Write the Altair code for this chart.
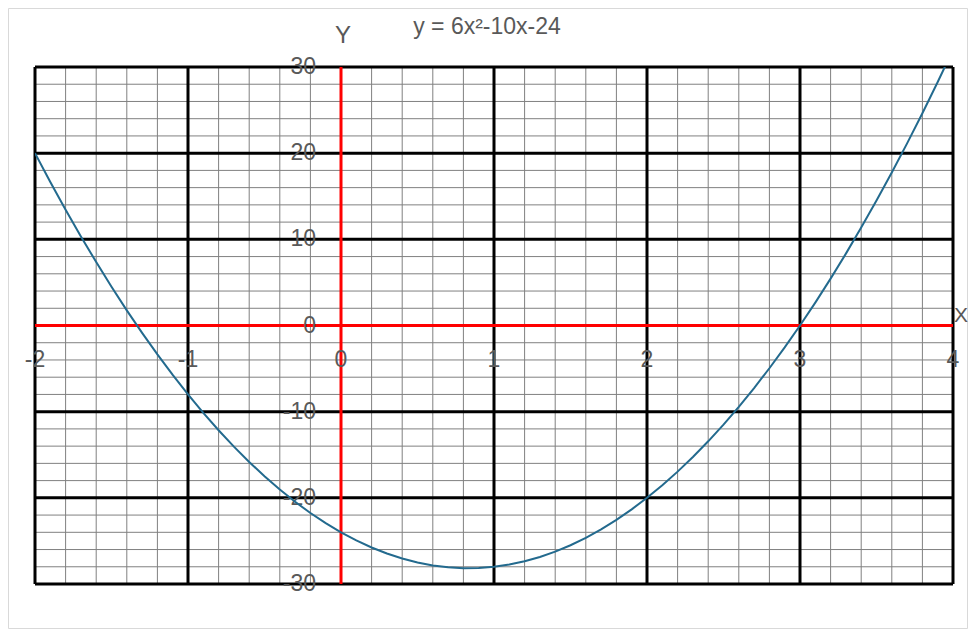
import altair as alt
import pandas as pd

# ---- data ----
curve_x = [-2.0, -1.9, -1.8, -1.7, -1.6, -1.5, -1.4, -1.3, -1.2, -1.1, -1.0,
           -0.9, -0.8, -0.7, -0.6, -0.5, -0.4, -0.3, -0.2, -0.1, 0.0,
           0.1, 0.2, 0.3, 0.4, 0.5, 0.6, 0.7, 0.8, 0.9, 1.0,
           1.1, 1.2, 1.3, 1.4, 1.5, 1.6, 1.7, 1.8, 1.9, 2.0,
           2.1, 2.2, 2.3, 2.4, 2.5, 2.6, 2.7, 2.8, 2.9, 3.0,
           3.1, 3.2, 3.3, 3.4, 3.5, 3.6, 3.7, 3.8, 3.9, 4.0]
curve_y = [20.0, 16.66, 13.44, 10.34, 7.36, 4.5, 1.76, -0.86, -3.36, -5.74, -8.0,
           -10.14, -12.16, -14.06, -15.84, -17.5, -19.04, -20.46, -21.76, -22.94, -24.0,
           -24.94, -25.76, -26.46, -27.04, -27.5, -27.84, -28.06, -28.16, -28.14, -28.0,
           -27.74, -27.36, -26.86, -26.24, -25.5, -24.64, -23.66, -22.56, -21.34, -20.0,
           -18.54, -16.96, -15.26, -13.44, -11.5, -9.44, -7.26, -4.96, -2.54, 0.0,
           2.66, 5.44, 8.34, 11.36, 14.5, 17.76, 21.14, 24.64, 28.26, 32.0]

x_major = [-2, -1, 0, 1, 2, 3, 4]
y_major = [-30, -20, -10, 0, 10, 20, 30]
x_minor = [-2.0, -1.8, -1.6, -1.4, -1.2, -1.0, -0.8, -0.6, -0.4, -0.2, 0.0,
           0.2, 0.4, 0.6, 0.8, 1.0, 1.2, 1.4, 1.6, 1.8, 2.0,
           2.2, 2.4, 2.6, 2.8, 3.0, 3.2, 3.4, 3.6, 3.8, 4.0]
y_minor = [-30, -28, -26, -24, -22, -20, -18, -16, -14, -12, -10, -8, -6, -4, -2, 0,
           2, 4, 6, 8, 10, 12, 14, 16, 18, 20, 22, 24, 26, 28, 30]
x_labels = ["-2", "-1", "0", "1", "2", "3", "4"]
y_labels = ["-30", "-20", "-10", "0", "10", "20", "30"]
title_text = "y = 6x²-10x-24"

FONT = "Liberation Sans"
GREY = "#595959"

xs = alt.Scale(domain=[-2, 4], nice=False, zero=False)
ys = alt.Scale(domain=[-30, 30], nice=False, zero=False)

curve_df = pd.DataFrame({"x": curve_x, "y": curve_y})
xmaj_df = pd.DataFrame({"x": [v for v in x_major if v != 0]})
ymaj_df = pd.DataFrame({"y": [v for v in y_major if v != 0]})
xmin_df = pd.DataFrame({"x": x_minor})
ymin_df = pd.DataFrame({"y": y_minor})
xlab_df = pd.DataFrame({"x": x_major, "y": [0] * len(x_major), "t": x_labels})
ylab_df = pd.DataFrame({"x": [0] * len(y_major), "y": y_major, "t": y_labels})
zero_df = pd.DataFrame({"z": [0]})
one_df = pd.DataFrame({"a": [1]})

X = lambda f: alt.X(f, type="quantitative", scale=xs, axis=None)
Y = lambda f: alt.Y(f, type="quantitative", scale=ys, axis=None)

border = alt.Chart(one_df).mark_rect(fill="white", stroke="#d9d9d9", strokeWidth=1).encode(
    x=alt.value(-26.5), x2=alt.value(932.5), y=alt.value(-58.5), y2=alt.value(561.5))

minor_v = alt.Chart(xmin_df).mark_rule(color="#808080", strokeWidth=1).encode(x=X("x"))
minor_h = alt.Chart(ymin_df).mark_rule(color="#808080", strokeWidth=1).encode(y=Y("y"))
major_v = alt.Chart(xmaj_df).mark_rule(color="black", strokeWidth=3).encode(x=X("x"))
major_h = alt.Chart(ymaj_df).mark_rule(color="black", strokeWidth=3).encode(y=Y("y"))
axis_v = alt.Chart(zero_df).mark_rule(color="#ff0000", strokeWidth=3).encode(x=X("z"))
axis_h = alt.Chart(zero_df).mark_rule(color="#ff0000", strokeWidth=3).encode(y=Y("z"))

xlab = alt.Chart(xlab_df).mark_text(font=FONT, fontSize=23, color=GREY, align="center",
                                    baseline="middle", dy=34).encode(
    x=X("x"), y=Y("y"), text="t:N")
ylab = alt.Chart(ylab_df).mark_text(font=FONT, fontSize=23, color=GREY, align="right",
                                    baseline="middle", dx=-25).encode(
    x=X("x"), y=Y("y"), text="t:N")

curve = alt.Chart(curve_df).mark_line(color="#236a8e", strokeWidth=2, clip=True).encode(
    x=X("x"), y=Y("y"))

ttl = alt.Chart(one_df).mark_text(font=FONT, fontSize=23, color=GREY, align="center",
                                  baseline="middle").encode(
    x=alt.value(452), y=alt.value(-40), text=alt.value(title_text))
ylet = alt.Chart(one_df).mark_text(font=FONT, fontSize=24, color=GREY, align="center",
                                   baseline="middle").encode(
    x=alt.value(308), y=alt.value(-31), text=alt.value("Y"))
xlet = alt.Chart(one_df).mark_text(font=FONT, fontSize=21, color=GREY, align="left",
                                   baseline="middle").encode(
    x=alt.value(919), y=alt.value(249), text=alt.value("X"))

chart = alt.layer(border, minor_v, minor_h, major_v, major_h, axis_v, axis_h,
                  xlab, ylab, curve, ttl, ylet, xlet).properties(
    width=918, height=517,
    padding={"left": 27, "top": 59, "right": 15, "bottom": 45},
    autosize=alt.AutoSizeParams(type="none"),
    background="white",
).configure_view(stroke=None)

chart.save("out.html", embed_options={"renderer": "svg", "actions": False})
